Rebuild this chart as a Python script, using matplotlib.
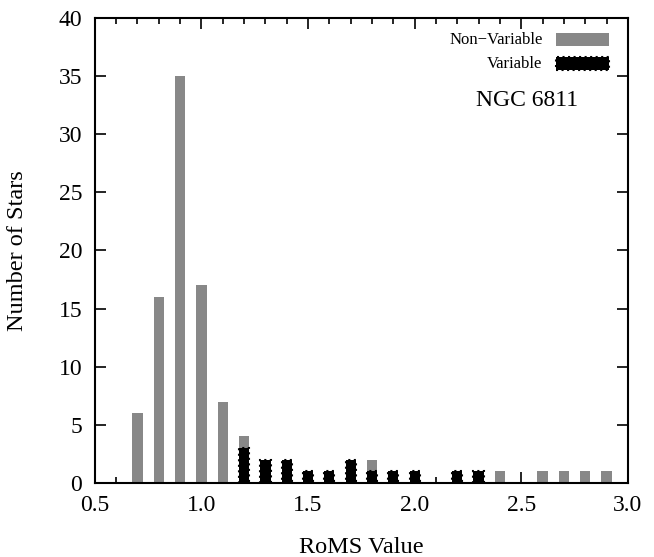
import matplotlib
matplotlib.use("Agg")
import matplotlib.pyplot as plt
from matplotlib.patches import Rectangle
from matplotlib.ticker import MultipleLocator

plt.rcParams['font.family'] = ['Liberation Serif', 'DejaVu Serif']

# RoMS histogram counts
nonvar_x = [0.7, 0.8, 0.9, 1.0, 1.1, 1.2, 1.8, 2.4, 2.6, 2.7, 2.8, 2.9]
nonvar_n = [6, 16, 35, 17, 7, 4, 2, 1, 1, 1, 1, 1]
var_x = [1.2, 1.3, 1.4, 1.5, 1.6, 1.7, 1.8, 1.9, 2.0, 2.2, 2.3]
var_n = [3, 2, 2, 1, 1, 2, 1, 1, 1, 1, 1]
xticks = [0.5, 1.0, 1.5, 2.0, 2.5, 3.0]

width = 0.048
gray = '#888888'

fig = plt.figure(figsize=(6.54, 5.57), dpi=100)
ax = fig.add_axes([0.145, 0.133, 0.815, 0.835])

ax.bar(nonvar_x, nonvar_n, width=width, color=gray, edgecolor='none',
       zorder=2)
ax.bar(var_x, var_n, width=width, color='black', edgecolor='black',
       linestyle=':', linewidth=1.5, zorder=2.1)

ax.set_xlim(0.5, 3.0)
ax.set_ylim(0, 40)
ax.set_xticks(xticks)
ax.set_xticklabels(['%.1f' % t for t in xticks])
ax.xaxis.set_minor_locator(MultipleLocator(0.1))
ax.yaxis.set_major_locator(MultipleLocator(5))
ax.tick_params(which='both', direction='in', top=True, right=True,
               labelsize=17, width=1.2)
ax.tick_params(which='major', length=8, pad=9)
ax.tick_params(which='minor', length=4)
for s in ax.spines.values():
    s.set_linewidth(1.5)
    s.set_zorder(3)

ax.set_xlabel('RoMS Value', fontsize=17.5, labelpad=15)
ax.set_ylabel('Number of Stars', fontsize=17.5, labelpad=22)

# key in the upper right
ax.text(0.84, 0.953, 'Non\u2212Variable', transform=ax.transAxes,
        ha='right', va='center', fontsize=12)
ax.add_patch(Rectangle((0.865, 0.94), 0.1, 0.028, transform=ax.transAxes,
                       facecolor=gray, edgecolor='none'))
ax.text(0.84, 0.901, 'Variable', transform=ax.transAxes,
        ha='right', va='center', fontsize=12)
ax.add_patch(Rectangle((0.865, 0.888), 0.1, 0.028, transform=ax.transAxes,
                       facecolor='black', edgecolor='black', linestyle=':',
                       linewidth=1.5))
ax.text(0.907, 0.822, 'NGC 6811', transform=ax.transAxes,
        ha='right', va='center', fontsize=17)

fig.savefig('out.png', dpi=100)
